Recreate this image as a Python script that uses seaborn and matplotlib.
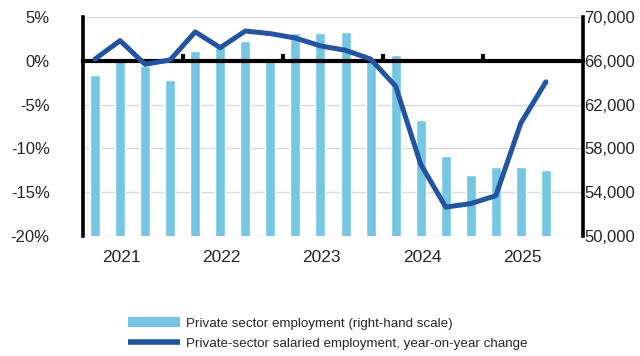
import numpy as np
import pandas as pd
import matplotlib
matplotlib.use("Agg")
import matplotlib.pyplot as plt
from matplotlib.lines import Line2D
from matplotlib.patches import Patch
import seaborn as sns

# Quarterly data, 2021 Q1 - 2025 Q3
quarters = [f"{y}Q{q}" for y in range(2021, 2026) for q in range(1, 5)][:19]
employment = [64700, 66100, 65500, 64250, 66900, 67250, 67800, 66150, 68500,
              68500, 68600, 66300, 66500, 60600, 57300, 55600, 56300, 56300, 56000]
yoy_change = [0.2, 2.3, -0.4, 0.1, 3.3, 1.5, 3.4, 3.1, 2.6, 1.7, 1.2, 0.2,
              -2.9, -11.8, -16.7, -16.3, -15.4, -7.1, -2.4]
year_labels = ["2021", "2022", "2023", "2024", "2025"]

bar_label = "Private sector employment (right-hand scale)"
line_label = "Private-sector salaried employment, year-on-year change"

bar_color = "#74C6E2"
line_color = "#2354A2"

sns.set_style("white")
plt.rcParams["font.family"] = ["Liberation Sans", "DejaVu Sans"]

df = pd.DataFrame({"quarter": quarters, "employment": employment,
                   "yoy": yoy_change, "pos": np.arange(len(quarters))})

fig = plt.figure(figsize=(6.4, 3.56), dpi=100)
ax = fig.add_axes([83 / 640, 1 - 236 / 356, 500 / 640, 219 / 356])

# Bars: employment level on the right-hand scale
sns.barplot(data=df, x="quarter", y="employment", ax=ax, color=bar_color,
            saturation=1, width=0.4)
ax.set_xlabel("")
ax.set_ylabel("")

# Line: year-on-year change on the left-hand scale
ax2 = ax.twinx()
sns.lineplot(data=df, x="pos", y="yoy", ax=ax2, color=line_color, lw=3.6,
             zorder=3)

ax.set_ylim(50000, 70000)
ax.set_yticks(np.arange(50000, 70001, 4000))
ax.yaxis.tick_right()
ax.yaxis.set_major_formatter(matplotlib.ticker.FuncFormatter(lambda v, _: f"{int(v):,}"))
ax.tick_params(axis="y", length=0, pad=1, labelsize=12)
ax.set_axisbelow(True)
ax.yaxis.grid(True, color="#d9d9d9", lw=1)
ax.xaxis.grid(False)

ax.set_xticks([1.05 + 4 * i for i in range(len(year_labels))])
ax.set_xticklabels(year_labels)
ax.tick_params(axis="x", length=0, pad=10, labelsize=12.5)
ax.set_xlim(-0.48, 19.48)
for s in ["left", "top", "bottom"]:
    ax.spines[s].set_visible(False)
ax.spines["right"].set_visible(True)
ax.spines["right"].set_color("black")
ax.spines["right"].set_linewidth(2.6)

ax2.set_ylim(-20, 5)
ax2.set_yticks(np.arange(-20, 6, 5))
ax2.yaxis.set_major_formatter(matplotlib.ticker.FuncFormatter(lambda v, _: f"{int(v)}%"))
ax2.yaxis.tick_left()
ax2.tick_params(axis="y", length=0, pad=24, labelsize=12)
ax2.set_xlim(-0.48, 19.48)
ax2.set_xlabel("")
ax2.set_ylabel("")
for s in ["right", "top", "bottom"]:
    ax2.spines[s].set_visible(False)
ax2.spines["left"].set_visible(True)
ax2.spines["left"].set_color("black")
ax2.spines["left"].set_linewidth(2.6)

# Horizontal axis crossing at zero with year-boundary ticks
zero_frac = (0 - (-20)) / 25
sec = ax2.secondary_xaxis(zero_frac)
sec.set_xticks([3.5, 7.5, 11.5, 15.5])
sec.set_xticklabels([])
sec.tick_params(axis="x", length=5, width=3, color="black", direction="out")
for s in sec.spines.values():
    s.set_color("black")
    s.set_linewidth(3)
sec.set_zorder(2)

handles = [Patch(facecolor=bar_color, edgecolor="none"),
           Line2D([0], [0], color=line_color, lw=4, solid_capstyle="butt")]
fig.legend(handles, [bar_label, line_label], loc="center left",
           bbox_to_anchor=(128 / 640, 1 - 333.5 / 356), frameon=False,
           fontsize=9.6, handlelength=3.9, handleheight=0.85,
           handletextpad=0.47, labelspacing=0.58, borderpad=0,
           borderaxespad=0)

fig.savefig("out.png", dpi=100)
